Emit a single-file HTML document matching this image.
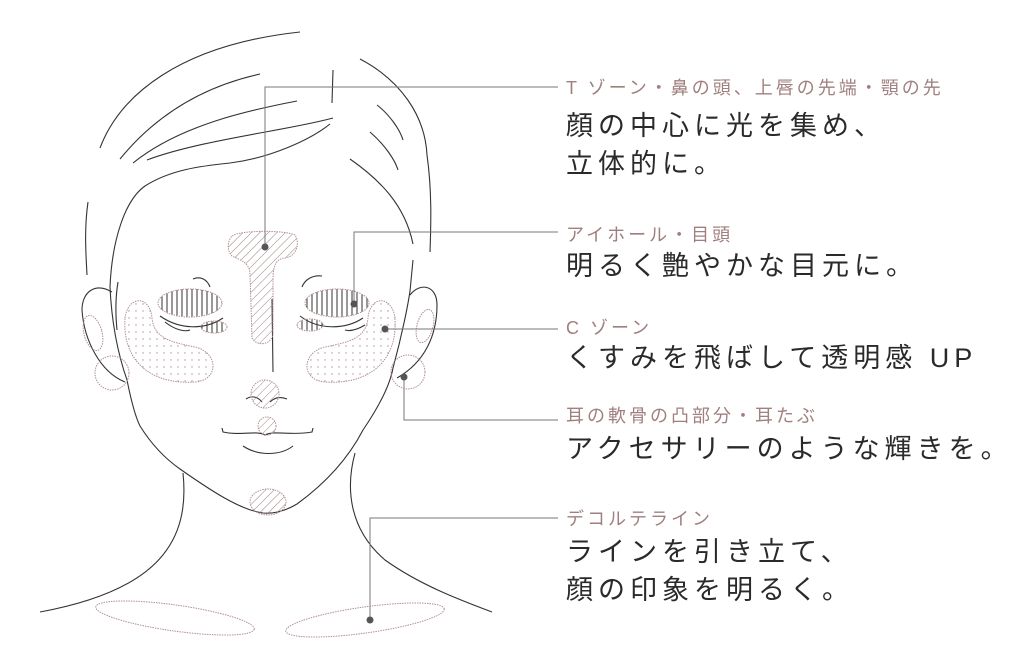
<!DOCTYPE html>
<html><head><meta charset="utf-8"><style>
body{margin:0;background:#fff;width:1019px;height:663px;overflow:hidden;font-family:"Liberation Sans","Noto Sans CJK JP",sans-serif}
.l{position:absolute;left:566px;font-size:18px;color:#a07f7f;letter-spacing:3px;white-space:nowrap}
.b{position:absolute;left:566px;font-size:27px;color:#2a2a2a;letter-spacing:5px;line-height:38px;white-space:nowrap}
</style></head><body>
<svg width="1019" height="663" style="position:absolute;left:0;top:0">
<defs>
<pattern id="h" width="6" height="6" patternUnits="userSpaceOnUse" patternTransform="rotate(45)"><line x1="0" y1="0" x2="0" y2="6" stroke="#a08585" stroke-width="1"/></pattern>
<pattern id="v" width="5" height="5" patternUnits="userSpaceOnUse"><line x1="2" y1="0" x2="2" y2="5" stroke="#333" stroke-width="1"/></pattern>
<pattern id="d" width="7" height="7" patternUnits="userSpaceOnUse"><circle cx="3" cy="3" r="0.7" fill="#b09090"/></pattern>
</defs>
<g fill="none" stroke="#333" stroke-width="1.1">
<path d="M100 148 C120 95 180 45 300 32"/>
<path d="M88 202 C84 230 86 255 87 275"/>
<path d="M360 59 C400 80 425 115 427 155 C432 190 431 225 430 252"/>
<path d="M110 287 C112 240 125 200 145 186 C170 170 200 166 230 163 C270 158 310 140 330 124"/>
<path d="M120 159 C160 110 210 85 260 74"/>
<path d="M133 163 C180 125 250 110 297 101"/>
<path d="M147 160 C200 140 290 130 333 118"/>
<path d="M350 159 C380 180 405 205 413 244"/>
<path d="M377 105 C390 115 400 130 403 140"/>
<path d="M370 132 C385 145 395 160 398 170"/>
<path d="M333 70 L332 103"/>
<path d="M110 287 C112 330 120 360 127 380 C132 405 136 418 140 426 C155 450 170 462 180 469 C210 490 240 510 263 513 C275 514 287 510 297 504 C330 480 350 455 363 430 C380 405 390 385 393 368 C402 335 408 305 410 291 L413 260"/>
<path d="M118 282 C115 300 116 320 117 330"/>
<path d="M112 292 C95 282 82 292 82 310 C84 340 100 372 125 382"/>
<path d="M410 295 C420 282 437 285 437 305 C437 335 425 362 397 378"/>
<path d="M193 279 C200 276 207 279 210 287"/><path d="M302 287 C305 279 313 275 322 276"/>
<path d="M160 316 C180 330 205 330 223 318"/><path d="M165 322 C175 330 185 332 190 330"/>
<path d="M300 316 C318 330 345 330 363 318"/><path d="M345 330 C352 332 360 328 365 325"/>
<path d="M272 299 L273 372"/><path d="M246 399 C252 395 258 397 262 402 M270 402 C276 396 282 397 287 399"/>
<path d="M222 428 L223 432 C240 436 255 430 265 435 C275 430 292 436 312 432 L313 428"/>
<path d="M243 446 C258 456 280 456 293 446"/>
<path d="M183 473 C190 540 160 590 40 612"/>
<path d="M355 453 C345 490 350 530 385 560 C420 585 460 600 492 612"/>
</g>
<g stroke="#b09090" stroke-width="1" stroke-dasharray="1.5 1">
<path d="M232 236 C240 230 285 230 295 235 C301 245 295 257 285 258 C276 259 273 265 273 280 L273 335 C270 346 256 346 252 338 L250 275 C250 262 240 260 232 256 C226 250 228 240 232 236 Z" fill="url(#h)"/>
<circle cx="265" cy="394" r="14" fill="url(#h)"/>
<circle cx="267" cy="426" r="9" fill="url(#h)"/>
<ellipse cx="268" cy="502" rx="18" ry="13" fill="url(#h)"/>
<ellipse cx="190" cy="303" rx="32" ry="14" fill="url(#v)"/>
<ellipse cx="337" cy="303" rx="32" ry="14" fill="url(#v)"/>
<ellipse cx="214" cy="327" rx="13" ry="6" fill="url(#v)"/>
<ellipse cx="310" cy="325" rx="13" ry="6" fill="url(#v)"/>
<path d="M125 318 C128 295 150 295 152 318 C154 338 170 342 195 347 C218 352 220 380 195 382 C150 385 122 360 125 318 Z" fill="url(#d)"/>
<path d="M395 318 C392 295 370 295 368 318 C366 338 350 342 325 347 C302 352 300 380 325 382 C370 385 398 360 395 318 Z" fill="url(#d)"/>
<ellipse cx="93" cy="333" rx="9" ry="18" transform="rotate(-15 93 333)" fill="none"/>
<ellipse cx="425" cy="326" rx="8" ry="17" transform="rotate(15 425 326)" fill="none"/>
<circle cx="112" cy="373" r="17" fill="none"/>
<circle cx="408" cy="372" r="17" fill="none"/>
<ellipse cx="175" cy="618" rx="80" ry="13" transform="rotate(8 175 618)" fill="none"/>
<ellipse cx="365" cy="620" rx="80" ry="13" transform="rotate(-8 365 620)" fill="none"/>
</g>
<g fill="none" stroke="#777" stroke-width="1">
<path d="M265 247 V87 H558"/><path d="M354 304 V232 H558"/><path d="M385 329 H558"/><path d="M404 377 V420 H558"/><path d="M370 620 V518 H558"/>
</g>
<g fill="#555"><circle cx="265" cy="247" r="3.5"/><circle cx="354" cy="304" r="3.5"/><circle cx="385" cy="329" r="3.5"/><circle cx="404" cy="377" r="3.5"/><circle cx="370" cy="620" r="3.5"/></g>
</svg>
<div class="l" style="top:74px">T ゾーン・鼻の頭、上唇の先端・顎の先</div>
<div class="b" style="top:107px">顔の中心に光を集め、<br>立体的に。</div>
<div class="l" style="top:221px">アイホール・目頭</div>
<div class="b" style="top:247px">明るく艶やかな目元に。</div>
<div class="l" style="top:314px">C ゾーン</div>
<div class="b" style="top:339px">くすみを飛ばして透明感 UP</div>
<div class="l" style="top:402px">耳の軟骨の凸部分・耳たぶ</div>
<div class="b" style="top:430px">アクセサリーのような輝きを。</div>
<div class="l" style="top:505px">デコルテライン</div>
<div class="b" style="top:533px">ラインを引き立て、<br>顔の印象を明るく。</div>
</body></html>
